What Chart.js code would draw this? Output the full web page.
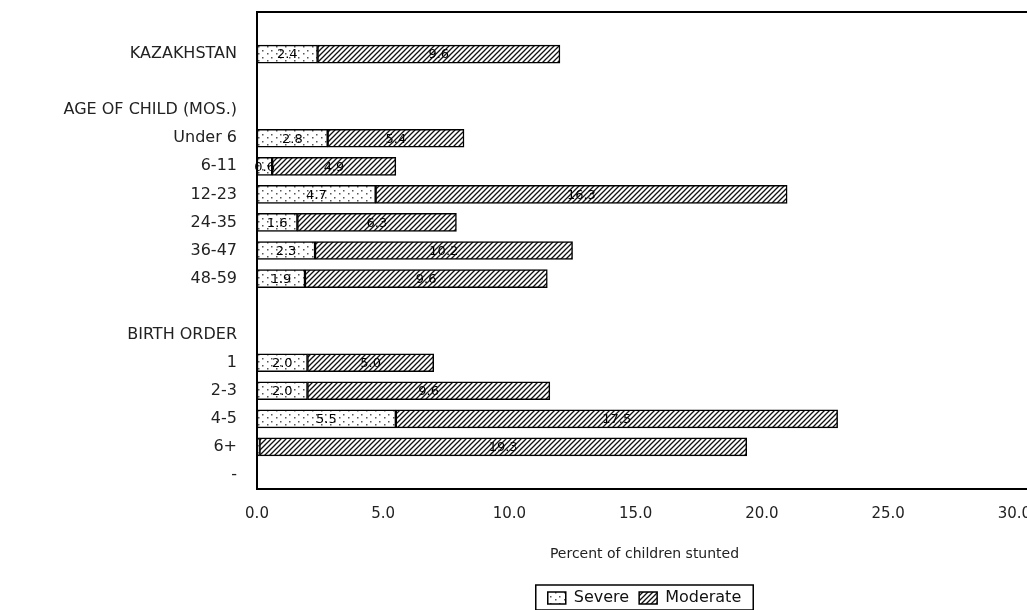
<!DOCTYPE html>
<html>
<head>
<meta charset="utf-8">
<script src="https://cdn.jsdelivr.net/npm/chart.js@4/dist/chart.umd.min.js"></script>
<style>
  html, body { margin: 0; padding: 0; background: #fff; overflow: hidden; }
  #wrap { width: 1034px; height: 610px; }
</style>
</head>
<body>
<div id="wrap"><canvas id="chart" width="1034" height="610"></canvas></div>
<script>
// rows of the chart, blanks and group headers included
const categories = ["", "KAZAKHSTAN", "", "AGE OF CHILD (MOS.)", "Under 6", "6-11", "12-23", "24-35", "36-47", "48-59", "", "BIRTH ORDER", "1", "2-3", "4-5", "6+", "-"];
const severe   = [null, 2.4, null, null, 2.8, 0.6, 4.7, 1.6, 2.3, 1.9, null, null, 2.0, 2.0, 5.5, 0.1, null];
const moderate = [null, 9.6, null, null, 5.4, 4.9, 16.3, 6.3, 10.2, 9.6, null, null, 5.0, 9.6, 17.5, 19.3, null];
const xTicks = [0, 5, 10, 15, 20, 25, 30];

const FONT = "'DejaVu Sans', sans-serif";

function hatchPattern() {
  const c = document.createElement("canvas");
  c.width = c.height = 5;
  const g = c.getContext("2d");
  g.fillStyle = "#fff";
  g.fillRect(0, 0, 5, 5);
  g.strokeStyle = "#111";
  g.lineWidth = 1.3;
  g.beginPath();
  g.moveTo(0, 5); g.lineTo(5, 0);
  g.moveTo(-1, 1); g.lineTo(1, -1);
  g.moveTo(4, 6); g.lineTo(6, 4);
  g.stroke();
  return g.createPattern(c, "repeat");
}

function dotPattern() {
  const c = document.createElement("canvas");
  c.width = 9; c.height = 7;
  const g = c.getContext("2d");
  g.fillStyle = "#fff";
  g.fillRect(0, 0, 9, 7);
  g.fillStyle = "#555";
  g.fillRect(1, 1, 1.5, 1.5);
  g.fillRect(6, 4, 1.5, 1.5);
  return g.createPattern(c, "repeat");
}

// value labels in the middle of each segment
const segLabels = {
  id: "segLabels",
  afterDatasetsDraw(chart) {
    const ctx = chart.ctx;
    ctx.save();
    ctx.font = "13px " + FONT;
    ctx.fillStyle = "#000";
    ctx.textAlign = "center";
    ctx.textBaseline = "middle";
    chart.data.datasets.forEach((ds, di) => {
      chart.getDatasetMeta(di).data.forEach((el, i) => {
        const v = ds.data[i];
        if (v == null || v < 0.5) return;
        ctx.fillText(v.toFixed(1), (el.x + el.base) / 2, el.y + 1);
      });
    });
    ctx.restore();
  }
};

// plot frame and box round the legend
const frame = {
  id: "frame",
  afterDraw(chart) {
    const a = chart.chartArea, ctx = chart.ctx;
    ctx.save();
    ctx.strokeStyle = "#000";
    ctx.lineWidth = 2;
    ctx.strokeRect(a.left, a.top, a.right - a.left, a.bottom - a.top);
    const hb = chart.legend.legendHitBoxes;
    if (hb && hb.length) {
      const l = hb[0].left - 12, r = hb[hb.length - 1].left + hb[hb.length - 1].width + 12;
      ctx.lineWidth = 1.5;
      ctx.strokeRect(l, hb[0].top - 5, r - l, hb[0].height + 9);
    }
    ctx.restore();
  }
};

new Chart(document.getElementById("chart"), {
  type: "bar",
  data: {
    labels: categories,
    datasets: [
      { label: "Severe", data: severe, backgroundColor: dotPattern(), borderColor: "#000", borderWidth: 1.5, borderSkipped: false, barThickness: 18 },
      { label: "Moderate", data: moderate, backgroundColor: hatchPattern(), borderColor: "#000", borderWidth: 1.5, borderSkipped: false, barThickness: 18 }
    ]
  },
  options: {
    indexAxis: "y",
    responsive: false,
    animation: false,
    layout: { padding: { top: 12, right: 2, left: 0, bottom: -6 } },
    scales: {
      x: {
        stacked: true,
        min: 0,
        max: 30.7,
        afterBuildTicks: s => { s.ticks = xTicks.map(v => ({ value: v })); },
        afterFit: s => { s.paddingLeft = 0; s.paddingRight = 0; s.height = 91; },
        grid: { display: false },
        border: { display: false },
        ticks: { padding: 8, color: "#222", font: { family: FONT, size: 15 }, callback: v => Number(v).toFixed(1) },
        title: { display: true, text: "Percent of children stunted", color: "#222", font: { family: FONT, size: 14 }, padding: { top: 12, bottom: 17 } }
      },
      y: {
        stacked: true,
        grid: { display: false, drawTicks: false },
        border: { display: false },
        afterFit: s => { s.width = 257; s.paddingTop = 0; s.paddingBottom = 0; },
        ticks: { padding: 20, color: "#222", autoSkip: false, font: { family: FONT, size: 16 } }
      }
    },
    plugins: {
      legend: {
        position: "bottom",
        fullSize: false,
        labels: { boxWidth: 18, boxHeight: 12, padding: 10, color: "#111", font: { family: FONT, size: 16 } }
      },
      tooltip: { enabled: false }
    }
  },
  plugins: [segLabels, frame]
});
</script>
</body>
</html>
